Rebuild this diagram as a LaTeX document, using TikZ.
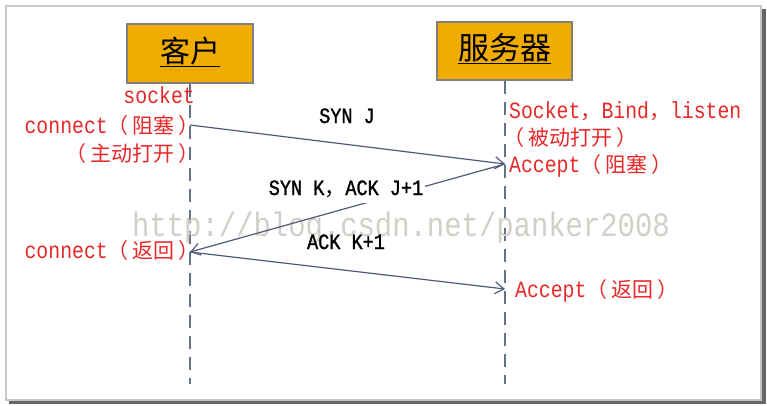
\documentclass[tikz,border=0pt]{standalone}
\usepackage{fontspec}
\usetikzlibrary{arrows.meta}
\newfontfamily\cjk{Noto Sans CJK SC}
\newfontfamily\lmono[FakeStretch=0.85]{Liberation Mono}
\newfontfamily\lmonob[FakeStretch=0.85,FakeBold=1.2]{Liberation Mono}
\newcommand\zh[1]{{\cjk\fontsize{21pt}{24pt}\selectfont #1}}
\newcommand\pp[1]{（\kern4pt #1\kern4pt）}
\definecolor{boxfill}{HTML}{F0AC00}
\definecolor{boxline}{HTML}{7F7F7F}
\definecolor{arrowcol}{HTML}{4F5B76}
\definecolor{lifecol}{HTML}{66718C}
\definecolor{redtxt}{HTML}{E82828}
\definecolor{wmark}{HTML}{D0D0C8}
\tikzset{
  actor/.style={draw=boxline, line width=1.5pt, fill=boxfill, inner sep=0pt},
  lifeline/.style={draw=lifecol, line width=1.6pt, dash pattern=on 13pt off 8pt},
  msg/.style={draw=arrowcol, line width=1.2pt, -{Straight Barb[length=9pt,width=12pt,line width=1.2pt]}},
  redlbl/.style={text=redtxt, font=\lmono\fontsize{23.3pt}{26pt}\selectfont, inner sep=0pt},
  msglbl/.style={text=black, font=\lmonob\fontsize{21.8pt}{24pt}\selectfont, inner sep=0pt},
}
\begin{document}
\begin{tikzpicture}[x=1pt, y=-1pt]
\useasboundingbox (0,0) rectangle (767,405);
% frame with shadow
\fill[black!60] (9,9) rectangle (766,404);
\filldraw[draw=black!22, line width=1.2pt, fill=white] (6,6) rectangle (761,400);
% actors
\node[actor, minimum width=126pt, minimum height=59pt] (cbox) at (190,53.5) {};
\node[actor, minimum width=135pt, minimum height=58pt] (sbox) at (504.5,51) {};
\node[font=\cjk\fontsize{30pt}{34pt}\selectfont, inner sep=0pt, anchor=base] (ctitle) at (190,62) {\underline{客户}};
\node[font=\cjk\fontsize{31pt}{35pt}\selectfont, inner sep=0pt, anchor=base] (stitle) at (504.5,59) {\underline{服务器}};
% lifelines
\coordinate (cend) at (190,384);
\coordinate (send) at (505,384);
\draw[lifeline] (cbox.south) -- (cend);
\draw[lifeline] (sbox.south -| send) -- (send);
% message points
\coordinate (c1) at (190,125);
\coordinate (s1) at (505,164);
\coordinate (c2) at (190,252);
\coordinate (s2) at (505,289);
% watermark
\node[text=wmark, font=\lmono\fontsize{34pt}{36pt}\selectfont, inner sep=0pt, anchor=base west] (wm) at (132,236) {http://blog.csdn.net/panker2008};
% messages
\draw[msg] (c1) -- (s1);
\draw[msg] (s1) -- (c2);
\draw[msg] (c2) -- (s2);
\node[msglbl, anchor=base] (l1) at (347,123) {SYN J};
\node[msglbl, anchor=base, fill=white, inner xsep=2pt, inner ysep=6pt] (l2) at (346,195) {SYN K\zh{，}ACK J+1};
\node[msglbl, anchor=base] (l3) at (346,249) {ACK K+1};
% client texts
\node[redlbl, anchor=base east] (t1) at (195,103) {socket};
\node[redlbl, anchor=base east] (t2) at (200,133) {connect\zh{\pp{阻塞}}};
\node[redlbl, anchor=base east] (t3) at (200,161) {\zh{\pp{主动打开}}};
\node[redlbl, anchor=base east] (t4) at (200,258) {connect\zh{\pp{返回}}};
% server texts
\node[redlbl, anchor=base west] (u1) at (509,118) {Socket\zh{，}Bind\zh{，}listen};
\node[redlbl, anchor=base west] (u2) at (503,145) {\zh{\pp{被动打开}}};
\node[redlbl, anchor=base west] (u3) at (509,172) {Accept\zh{\pp{阻塞}}};
\node[redlbl, anchor=base west] (u4) at (515,297) {Accept\zh{\pp{返回}}};
\end{tikzpicture}
\end{document}
